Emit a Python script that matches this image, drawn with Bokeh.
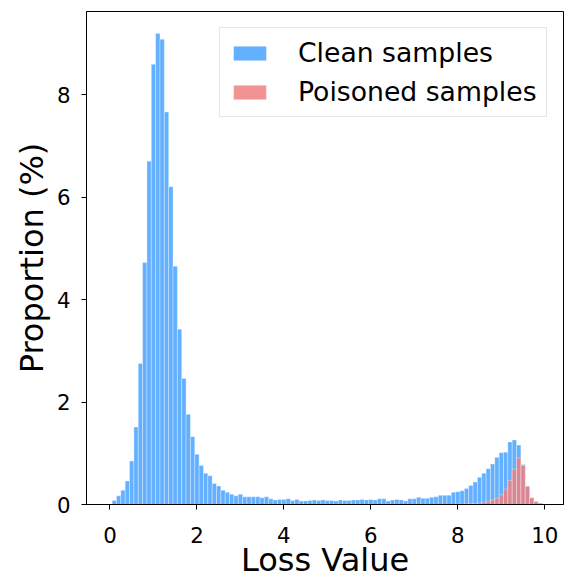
from bokeh.plotting import figure
from bokeh.models import ColumnDataSource, Range1d, FixedTicker, Legend, LegendItem
from bokeh.embed import file_html
from bokeh.resources import INLINE

# ---- data ----
bin_width = 0.1
bin_centers = [round(0.1 * i, 1) for i in range(1, 100)]   # 0.1 ... 9.9

clean_pct = [
    0.08, 0.17, 0.28, 0.46, 0.85, 1.51, 2.75, 4.72, 6.70, 8.59,   # 0.1-1.0
    9.19, 9.08, 7.66, 6.20, 4.65, 3.42, 2.46, 1.76, 1.32, 0.98,   # 1.1-2.0
    0.76, 0.61, 0.56, 0.41, 0.36, 0.28, 0.24, 0.20, 0.17, 0.20,   # 2.1-3.0
    0.15, 0.15, 0.15, 0.15, 0.13, 0.15, 0.11, 0.09, 0.10, 0.10,   # 3.1-4.0
    0.11, 0.08, 0.10, 0.07, 0.07, 0.08, 0.09, 0.08, 0.09, 0.08,   # 4.1-5.0
    0.08, 0.07, 0.09, 0.08, 0.08, 0.09, 0.09, 0.10, 0.09, 0.10,   # 5.1-6.0
    0.09, 0.11, 0.11, 0.07, 0.09, 0.10, 0.09, 0.07, 0.11, 0.11,   # 6.1-7.0
    0.14, 0.12, 0.12, 0.14, 0.15, 0.18, 0.18, 0.18, 0.24, 0.25,   # 7.1-8.0
    0.27, 0.31, 0.37, 0.44, 0.53, 0.61, 0.70, 0.79, 0.92, 1.01,   # 8.1-9.0
    1.02, 1.22, 1.26, 1.16, 0.78, 0.36, 0.13, 0.065, 0.03,        # 9.1-9.9
]

poison_centers = [8.0, 8.1, 8.2, 8.3, 8.4, 8.5, 8.6, 8.7, 8.8, 8.9,
                  9.0, 9.1, 9.2, 9.3, 9.4, 9.5, 9.6, 9.7, 9.8, 9.9]
poison_pct = [0.005, 0.008, 0.01, 0.015, 0.02, 0.03, 0.045, 0.065, 0.09, 0.12,
              0.19, 0.30, 0.47, 0.69, 0.91, 0.76, 0.35, 0.13, 0.05, 0.01]

x_ticks = [0, 2, 4, 6, 8, 10]
y_ticks = [0, 2, 4, 6, 8]
x_label = "Loss Value"
y_label = "Proportion (%)"
series_names = ["Clean samples", "Poisoned samples"]

FONT = "DejaVu Sans"

src_clean = ColumnDataSource(dict(x=bin_centers, top=clean_pct))
src_poison = ColumnDataSource(dict(x=poison_centers, top=poison_pct))

p = figure(width=567, height=581,
           x_range=Range1d(-0.54, 10.43), y_range=Range1d(0, 9.62),
           output_backend="svg", toolbar_location=None,
           min_border_left=86, min_border_right=4, min_border_top=11, min_border_bottom=77)

p.xgrid.visible = False
p.ygrid.visible = False
p.outline_line_color = "black"
p.outline_line_width = 1
p.background_fill_color = "white"
p.border_fill_color = "white"

r_clean = p.vbar(x="x", top="top", width=bin_width, source=src_clean,
                 fill_color="#62b0ff", line_color="white", line_alpha=0.55, line_width=0.6)
r_poison = p.vbar(x="x", top="top", width=bin_width, source=src_poison,
                  fill_color="#f08080", fill_alpha=0.85,
                  line_color="white", line_alpha=0.55, line_width=0.6)

p.xaxis.ticker = FixedTicker(ticks=x_ticks)
p.yaxis.ticker = FixedTicker(ticks=y_ticks)
for ax in (p.xaxis[0], p.yaxis[0]):
    ax.major_tick_out = 5
    ax.major_tick_in = 0
    ax.minor_tick_out = 0
    ax.minor_tick_in = 0
    ax.major_tick_line_color = "black"
    ax.axis_line_color = "black"
    ax.major_label_text_font = FONT
    ax.major_label_text_font_size = "21.33px"
    ax.major_label_text_color = "black"
    ax.axis_label_text_font = FONT
    ax.axis_label_text_font_size = "32px"
    ax.axis_label_text_font_style = "normal"
    ax.axis_label_text_color = "black"

p.xaxis.axis_label = x_label
p.xaxis.major_label_standoff = 17
p.xaxis.axis_label_standoff = -5
p.yaxis.axis_label = y_label
p.yaxis.major_label_standoff = 11
p.yaxis.axis_label_standoff = 3

legend = Legend(items=[LegendItem(label=series_names[0], renderers=[r_clean]),
                       LegendItem(label=series_names[1], renderers=[r_poison])],
                location=(133, 387), margin=0,
                label_text_font=FONT, label_text_font_size="26.67px",
                label_text_color="black",
                glyph_width=41, glyph_height=18, label_height=30,
                label_standoff=28, spacing=8, padding=9,
                border_line_color="#cccccc", border_line_width=1,
                background_fill_color="white", background_fill_alpha=0.8)
p.add_layout(legend)

open("out.html", "w").write(file_html(p, INLINE))
